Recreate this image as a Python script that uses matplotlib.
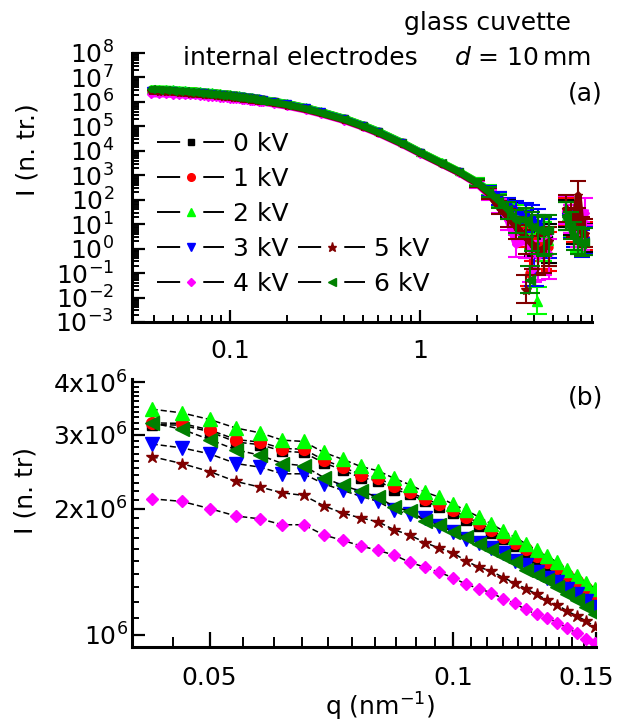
import numpy as np
import matplotlib
matplotlib.use('Agg')
import matplotlib.pyplot as plt
from matplotlib.lines import Line2D
from matplotlib.transforms import ScaledTranslation
from matplotlib.ticker import LogLocator, FixedLocator, FixedFormatter, NullFormatter

plt.rcParams['font.family'] = 'DejaVu Sans'
plt.rcParams['mathtext.fontset'] = 'dejavusans'

# Leyenda / series
labels = ['0 kV', '1 kV', '2 kV', '3 kV', '4 kV', '5 kV', '6 kV']
colors = ['#000000', '#ff0000', '#00ff00', '#0000ff', '#ff00ff', '#800000', '#008000']
markers = ['s', 'o', '^', 'v', 'D', '*', '<']

# Panel (b): zona de q baja
q_b = [0.0424, 0.0462, 0.0500, 0.0539, 0.0577, 0.0615, 0.0653, 0.0692, 0.0730, 0.0768,
       0.0807, 0.0845, 0.0883, 0.0922, 0.0960, 0.0998, 0.1037, 0.1075, 0.1113, 0.1152,
       0.1190, 0.1228, 0.1267, 0.1305, 0.1343, 0.1382, 0.1420, 0.1458, 0.1497]

I_0kV = [3.17e6, 3.16e6, 3.05e6, 2.88e6, 2.84e6, 2.74e6, 2.72e6, 2.57e6, 2.47e6, 2.37e6,
         2.33e6, 2.22e6, 2.17e6, 2.08e6, 2.02e6, 1.95e6, 1.88e6, 1.82e6, 1.75e6, 1.69e6,
         1.63e6, 1.58e6, 1.52e6, 1.47e6, 1.425e6, 1.37e6, 1.325e6, 1.28e6, 1.24e6]
I_1kV = [3.20e6, 3.19e6, 3.08e6, 2.92e6, 2.88e6, 2.78e6, 2.77e6, 2.61e6, 2.51e6, 2.41e6,
         2.37e6, 2.26e6, 2.19e6, 2.11e6, 2.05e6, 1.98e6, 1.91e6, 1.85e6, 1.78e6, 1.71e6,
         1.66e6, 1.60e6, 1.54e6, 1.49e6, 1.445e6, 1.39e6, 1.345e6, 1.295e6, 1.255e6]
I_2kV = [3.45e6, 3.38e6, 3.26e6, 3.11e6, 3.03e6, 2.91e6, 2.89e6, 2.72e6, 2.62e6, 2.52e6,
         2.46e6, 2.36e6, 2.28e6, 2.19e6, 2.13e6, 2.05e6, 1.98e6, 1.91e6, 1.84e6, 1.77e6,
         1.71e6, 1.65e6, 1.59e6, 1.54e6, 1.49e6, 1.43e6, 1.38e6, 1.33e6, 1.29e6]
I_3kV = [2.85e6, 2.79e6, 2.70e6, 2.56e6, 2.51e6, 2.42e6, 2.42e6, 2.29e6, 2.21e6, 2.14e6,
         2.08e6, 1.98e6, 1.94e6, 1.90e6, 1.82e6, 1.76e6, 1.69e6, 1.66e6, 1.61e6, 1.57e6,
         1.50e6, 1.47e6, 1.41e6, 1.37e6, 1.34e6, 1.29e6, 1.25e6, 1.205e6, 1.165e6]
I_4kV = [2.11e6, 2.08e6, 2.00e6, 1.92e6, 1.89e6, 1.83e6, 1.83e6, 1.73e6, 1.68e6, 1.63e6,
         1.59e6, 1.55e6, 1.49e6, 1.45e6, 1.41e6, 1.37e6, 1.32e6, 1.29e6, 1.26e6, 1.22e6,
         1.19e6, 1.15e6, 1.12e6, 1.10e6, 1.07e6, 1.04e6, 1.01e6, 0.98e6, 0.955e6]
I_5kV = [2.66e6, 2.56e6, 2.45e6, 2.32e6, 2.25e6, 2.18e6, 2.15e6, 2.03e6, 1.95e6, 1.90e6,
         1.86e6, 1.78e6, 1.73e6, 1.66e6, 1.61e6, 1.57e6, 1.50e6, 1.45e6, 1.42e6, 1.37e6,
         1.33e6, 1.29e6, 1.25e6, 1.21e6, 1.18e6, 1.14e6, 1.11e6, 1.08e6, 1.045e6]
I_6kV = [3.20e6, 3.09e6, 2.92e6, 2.76e6, 2.68e6, 2.56e6, 2.53e6, 2.37e6, 2.27e6, 2.20e6,
         2.13e6, 2.02e6, 1.97e6, 1.87e6, 1.83e6, 1.76e6, 1.71e6, 1.65e6, 1.59e6, 1.54e6,
         1.49e6, 1.43e6, 1.39e6, 1.35e6, 1.30e6, 1.25e6, 1.21e6, 1.165e6, 1.12e6]

# Panel (a): puntos extra fuera del rango de (b)
q_lo = [0.0386]
q_hi = [0.17, 0.2, 0.25, 0.3, 0.4, 0.5, 0.6, 0.8, 1.0, 1.3, 1.6,
        2.0, 2.3, 2.6, 2.9, 3.2, 3.6, 3.9, 4.2, 4.5, 4.8]
q_bump = [5.9, 6.2, 6.5, 6.8, 7.1, 7.4]

lo_0kV = [3.17e6]
lo_1kV = [3.20e6]
lo_2kV = [3.45e6]
lo_3kV = [2.87e6]
lo_4kV = [2.10e6]
lo_5kV = [2.68e6]
lo_6kV = [3.22e6]

hi_0kV = [1.05e6, 8.5e5, 5.8e5, 4.0e5, 2.1e5, 1.12e5, 6.3e4, 2.2e4, 8.9e3, 3.2e3, 1.4e3,
          5.0e2, 2.2e2, 1.1e2, 50, 30, 12, 5, 3, 3, 2.5]
hi_1kV = [1.06e6, 8.6e5, 5.9e5, 4.05e5, 2.12e5, 1.13e5, 6.4e4, 2.25e4, 9.1e3, 3.3e3, 1.45e3,
          5.3e2, 2.0e2, 1.2e2, 40, 25, 6, 3, 1.5, 1.5, 1.2]
hi_2kV = [1.09e6, 8.8e5, 6.0e5, 4.15e5, 2.18e5, 1.16e5, 6.6e4, 2.3e4, 9.3e3, 3.4e3, 1.5e3,
          5.5e2, 2.5e2, 1.0e2, 60, 28, 20, 10, 6, 3, 2]
hi_3kV = [9.9e5, 8.0e5, 5.45e5, 3.75e5, 1.97e5, 1.05e5, 5.9e4, 2.07e4, 8.4e3, 3.0e3, 1.32e3,
          4.8e2, 2.3e2, 1.2e2, 60, 35, 25, 15, 10, 6, 4]
hi_4kV = [8.1e5, 6.6e5, 4.6e5, 3.2e5, 1.7e5, 9.2e4, 5.2e4, 1.85e4, 7.6e3, 2.8e3, 1.25e3,
          4.3e2, 1.6e2, 60, 15, 1.5, 2, 0.8, 0.5, 0.8, 0.6]
hi_5kV = [8.8e5, 7.1e5, 4.9e5, 3.4e5, 1.8e5, 9.7e4, 5.5e4, 1.95e4, 8.0e3, 2.9e3, 1.3e3,
          4.6e2, 1.8e2, 50, 20, 8, 3, 1.5, 0.8, 1, 2]
hi_6kV = [9.5e5, 7.7e5, 5.3e5, 3.65e5, 1.92e5, 1.03e5, 5.8e4, 2.05e4, 8.4e3, 3.1e3, 1.4e3,
          5.0e2, 2.1e2, 90, 40, 15, 15, 8, 6, 5, 6]

# puntos sueltos muy bajos en la zona ruidosa
dip_q_1kV, dip_I_1kV = [3.8], [0.1]
dip_q_2kV, dip_I_2kV = [4.15], [0.007]
dip_q_3kV, dip_I_3kV = [4.0], [0.1]
dip_q_4kV, dip_I_4kV = [3.9], [0.15]
dip_q_5kV, dip_I_5kV = [3.6], [0.02]
dip_q_6kV, dip_I_6kV = [3.8], [0.05]

bump_0kV = [25, 12, 5, 3, 2, 2.5]
bump_1kV = [30, 15, 6, 4, 3, 3]
bump_2kV = [20, 10, 4, 2.5, 2, 1.8]
bump_3kV = [20, 9, 4, 2, 1.5, 2]
bump_4kV = [35, 15, 8, 4, 3, 30]
bump_5kV = [40, 20, 10, 150, 5, 4]
bump_6kV = [20, 8, 3, 2, 1.6, 1.8]

# errores relativos (abajo / arriba) para q >= 2
err_lo_hi = [0.3, 0.4, 0.5, 0.6, 0.7, 0.8, 0.9, 0.9, 0.9, 0.9]
err_up_hi = [0.4, 0.6, 0.8, 1.0, 1.5, 2.0, 3.0, 3.0, 3.0, 3.0]
err_lo_bump = [0.7, 0.7, 0.7, 0.7, 0.7, 0.7]
err_up_bump = [3.0, 3.0, 3.0, 3.0, 3.0, 3.0]
err_lo_dip, err_up_dip = 0.7, 3.0

I_b = [I_0kV, I_1kV, I_2kV, I_3kV, I_4kV, I_5kV, I_6kV]
I_lo = [lo_0kV, lo_1kV, lo_2kV, lo_3kV, lo_4kV, lo_5kV, lo_6kV]
I_hi = [hi_0kV, hi_1kV, hi_2kV, hi_3kV, hi_4kV, hi_5kV, hi_6kV]
I_bump = [bump_0kV, bump_1kV, bump_2kV, bump_3kV, bump_4kV, bump_5kV, bump_6kV]
dips = [([], []), (dip_q_1kV, dip_I_1kV), (dip_q_2kV, dip_I_2kV), (dip_q_3kV, dip_I_3kV),
        (dip_q_4kV, dip_I_4kV), (dip_q_5kV, dip_I_5kV), (dip_q_6kV, dip_I_6kV)]

ms_b = [7, 8.5, 9.5, 9.5, 6.6, 9, 9.5]
ms_a = [4.5, 5, 5.5, 5.5, 4, 6, 5.5]

fig = plt.figure(figsize=(6.19, 7.24), dpi=100)
ax_a = fig.add_axes([132/619, 1-322/724, 460/619, 269/724])
ax_b = fig.add_axes([132/619, 1-647/724, 464/619, 268/724])


def err_pair(y, lo, up):
    y = np.array(y)
    return [y*np.array(lo), y*np.array(up)]


# ---------- panel (a)
n_err = len(err_lo_hi)
for i in range(7):
    c, m, z = colors[i], markers[i], 2 + i
    q_main = q_lo + q_b + q_hi
    y_main = I_lo[i] + I_b[i] + I_hi[i]
    ax_a.plot(q_main, y_main, color=c, lw=5, solid_joinstyle='round',
              solid_capstyle='round', zorder=z)
    ax_a.plot(q_main, y_main, linestyle='none', marker=m, ms=ms_a[i], mfc=c, mec=c, zorder=z)
    ax_a.errorbar(q_hi[-n_err:], I_hi[i][-n_err:], yerr=err_pair(I_hi[i][-n_err:], err_lo_hi, err_up_hi),
                  fmt='none', ecolor=c, elinewidth=1.5, capsize=6, capthick=1.5, zorder=z)
    dq, dI = dips[i]
    if dq:
        ax_a.errorbar(dq, dI, yerr=[np.array(dI)*err_lo_dip, np.array(dI)*err_up_dip],
                      fmt=m, ms=ms_a[i] + 1.5, mfc=c, mec=c, ecolor=c, elinewidth=1.5,
                      capsize=7, capthick=1.5, zorder=z)
    ax_a.plot(q_bump, I_bump[i], color=c, lw=5, solid_joinstyle='round', zorder=z)
    ax_a.errorbar(q_bump, I_bump[i], yerr=err_pair(I_bump[i], err_lo_bump, err_up_bump),
                  fmt=m, ms=ms_a[i], mfc=c, mec=c, ecolor=c, elinewidth=1.5,
                  capsize=6, capthick=1.5, zorder=z)

ax_a.set_xscale('log')
ax_a.set_yscale('log')
ax_a.set_xlim(0.0305, 8.04)
ax_a.set_ylim(1e-3, 1e8)
ax_a.yaxis.set_major_locator(LogLocator(base=10, numticks=30))
ax_a.yaxis.set_minor_locator(LogLocator(base=10, subs=np.arange(2, 10), numticks=30))
ax_a.yaxis.set_minor_formatter(NullFormatter())
ax_a.xaxis.set_major_locator(FixedLocator([0.1, 1]))
ax_a.xaxis.set_major_formatter(FixedFormatter(['0.1', '1']))
ax_a.xaxis.set_minor_locator(LogLocator(base=10, subs=np.arange(2, 10), numticks=30))
ax_a.xaxis.set_minor_formatter(NullFormatter())

# ---------- panel (b)
for i in range(7):
    ax_b.plot(q_b, I_b[i], color='black', lw=1.1, linestyle=(0, (4, 2)),
              marker=markers[i], ms=ms_b[i], mfc=colors[i], mec=colors[i])

ax_b.set_xscale('log')
ax_b.set_yscale('log')
ax_b.set_xlim(0.0401, 0.15)
ax_b.set_ylim(0.936e6, 4.07e6)
ax_b.xaxis.set_major_locator(FixedLocator([0.05, 0.1, 0.15]))
ax_b.xaxis.set_major_formatter(FixedFormatter(['0.05', '0.1', '0.15']))
ax_b.xaxis.set_minor_locator(FixedLocator([0.045] + list(np.arange(0.055, 0.1, 0.005)) +
                                          list(np.arange(0.105, 0.149, 0.005))))
ax_b.xaxis.set_minor_formatter(NullFormatter())
ax_b.yaxis.set_major_locator(FixedLocator([1e6, 2e6, 3e6, 4e6]))
ax_b.yaxis.set_major_formatter(FixedFormatter([r'$\mathdefault{10^{6}}$', r'2x$\mathdefault{10^{6}}$',
                                               r'3x$\mathdefault{10^{6}}$', r'4x$\mathdefault{10^{6}}$']))
ax_b.yaxis.set_minor_locator(FixedLocator([v*1e5 for v in range(11, 41) if v % 10 != 0]))
ax_b.yaxis.set_minor_formatter(NullFormatter())

for ax in (ax_a, ax_b):
    ax.spines['top'].set_visible(False)
    ax.spines['right'].set_visible(False)
    ax.spines['left'].set_linewidth(2.2)
    ax.spines['bottom'].set_linewidth(2.2)
    ax.tick_params(which='major', direction='in', length=9, width=1.6, labelsize=18)
    ax.tick_params(which='minor', direction='in', length=5, width=1.4)
    ax.set_facecolor('none')

ax_a.tick_params(axis='y', which='major', pad=13)
ax_a.tick_params(axis='x', which='major', pad=12)
ax_b.tick_params(axis='y', which='major', pad=3)
ax_b.tick_params(axis='x', which='major', pad=14, length=11)
ax_b.tick_params(axis='x', which='minor', length=7)

# leyenda: 0-4 kV en la primera columna, 5 y 6 kV al lado de 3 y 4 kV
handles = []
for i in range(7):
    handles.append(Line2D([], [], color='black', lw=1.4, linestyle=(0, (11.9, 11.9)),
                          marker=markers[i], ms=ms_a[i] + 0.5, mfc=colors[i], mec=colors[i]))
blank = Line2D([], [], linestyle='none', marker='none')
leg_h = handles[:5] + [blank, blank, blank] + handles[5:]
leg_l = labels[:5] + [' ', ' ', ' '] + labels[5:]
ax_a.legend(leg_h, leg_l, ncol=2, loc='upper left', bbox_to_anchor=(157/619, 1-132/724),
            bbox_transform=fig.transFigure, frameon=False, fontsize=18, numpoints=1,
            handlelength=2.68, handletextpad=0.35, columnspacing=0.4, labelspacing=0.44,
            borderpad=0, borderaxespad=0)

# textos
fig.text(571/619, 1-23/724, 'glass cuvette', fontsize=18, ha='right', va='center')
fig.text(183/619, 1-58/724, 'internal electrodes', fontsize=18, ha='left', va='center')
fig.text(591/619, 1-58/724, r'$d$ = 10$\,$mm', fontsize=18, ha='right', va='center')
fig.text(603/619, 1-93/724, '(a)', fontsize=18, ha='right', va='center')
fig.text(603/619, 1-397/724, '(b)', fontsize=18, ha='right', va='center')
fig.text(27/619, 1-150/724, 'I (n. tr.)', fontsize=18, rotation=90, ha='center', va='center')
fig.text(26/619, 1-490/724, 'I (n. tr)', fontsize=18, rotation=90, ha='center', va='center')
fig.text(380/619, 1-707/724, r'q (nm$^{-1}$)', fontsize=18, ha='center', va='center')

# la etiqueta 0.15 queda un poco a la izquierda para que quepa
lbl = ax_b.xaxis.get_major_ticks()[2].label1
lbl.set_transform(lbl.get_transform() + ScaledTranslation(-7/72, 0, fig.dpi_scale_trans))

fig.savefig('out.png', dpi=100)
